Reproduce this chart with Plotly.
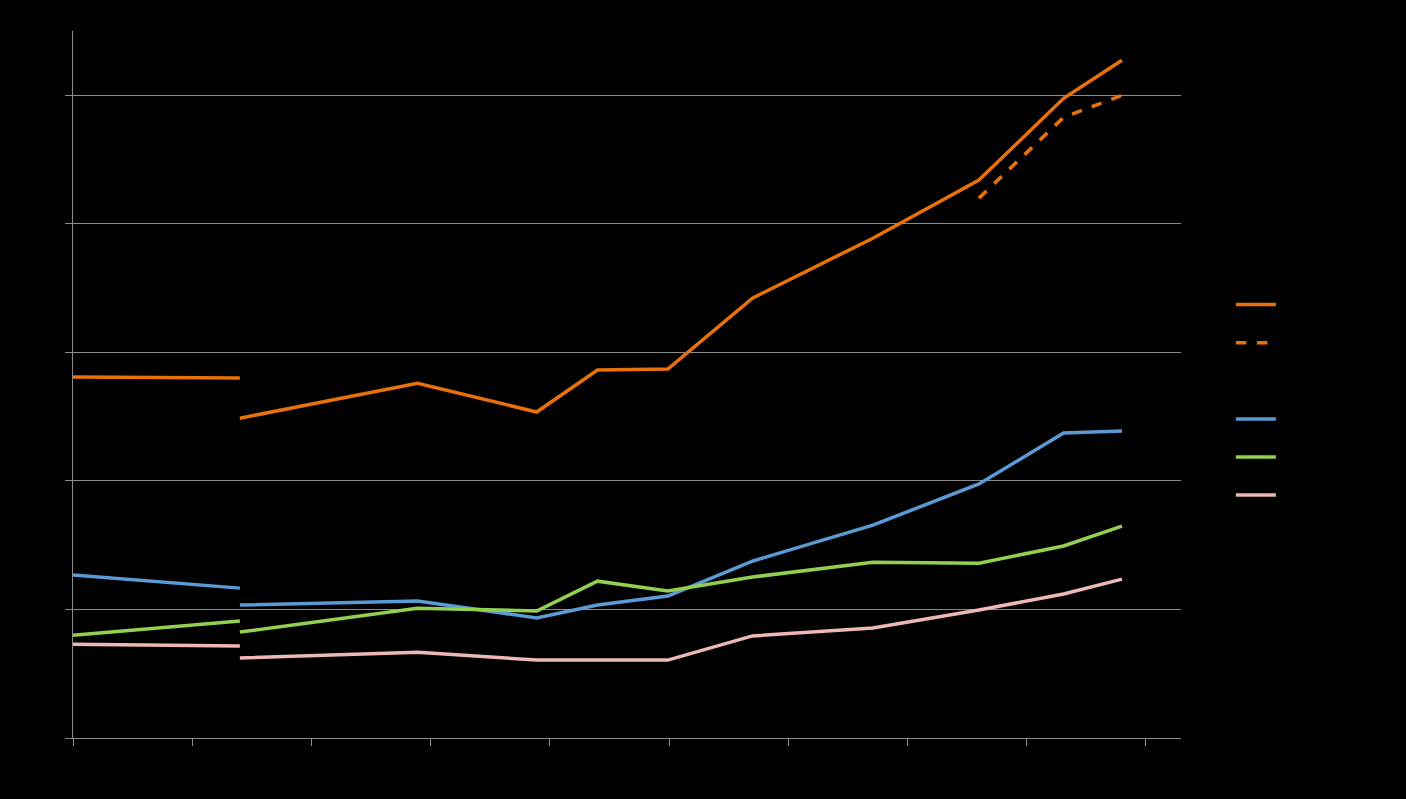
import plotly.graph_objects as go

# x positions expressed in years (tick every year)
x_first = [2010.0, 2011.40]
x_main = [2011.40, 2012.89, 2013.89, 2014.40, 2014.99, 2015.70, 2016.71, 2017.60, 2018.31, 2018.80]
x_proj = [2017.60, 2018.31, 2018.80]

orange_first = [140.4, 140.0]
orange_main = [124.4, 138.0, 126.8, 143.1, 143.5, 171.1, 194.4, 217.0, 248.8, 263.6]
orange_proj = [210.0, 241.4, 250.0]

blue_first = [63.4, 58.3]
blue_main = [51.7, 53.3, 46.7, 51.7, 55.2, 68.8, 82.8, 98.8, 118.6, 119.4]

green_first = [40.0, 45.5]
green_main = [41.2, 50.5, 49.4, 61.0, 57.2, 62.6, 68.4, 68.0, 74.7, 82.4]

pink_first = [36.5, 35.8]
pink_main = [31.1, 33.4, 30.3, 30.3, 30.3, 39.7, 42.8, 49.8, 56.0, 61.8]

y_ticks = [0, 50, 100, 150, 200, 250]
x_ticks = [2010, 2011, 2012, 2013, 2014, 2015, 2016, 2017, 2018, 2019]

ORANGE = "#E8710A"
BLUE = "#5B9BD5"
GREEN = "#92D050"
PINK = "#EDB8B6"
LW = 3.5


def joined(xa, ya, xb, yb):
    return list(xa) + [None] + list(xb), list(ya) + [None] + list(yb)


fig = go.Figure()

xo, yo = joined(x_first, orange_first, x_main, orange_main)
fig.add_trace(go.Scatter(x=xo, y=yo, mode="lines", name="A",
                         line=dict(color=ORANGE, width=LW), connectgaps=False))
fig.add_trace(go.Scatter(x=x_proj, y=orange_proj, mode="lines", name="A*",
                         line=dict(color=ORANGE, width=LW, dash="dash")))
fig.add_trace(go.Scatter(x=[None], y=[None], mode="lines", name=" ",
                         line=dict(color="#000000", width=3)))
xb, yb = joined(x_first, blue_first, x_main, blue_main)
fig.add_trace(go.Scatter(x=xb, y=yb, mode="lines", name="B",
                         line=dict(color=BLUE, width=LW), connectgaps=False))
xg, yg = joined(x_first, green_first, x_main, green_main)
fig.add_trace(go.Scatter(x=xg, y=yg, mode="lines", name="C",
                         line=dict(color=GREEN, width=LW), connectgaps=False))
xp, yp = joined(x_first, pink_first, x_main, pink_main)
fig.add_trace(go.Scatter(x=xp, y=yp, mode="lines", name="D",
                         line=dict(color=PINK, width=LW), connectgaps=False))

fig.update_layout(
    width=1406, height=799,
    paper_bgcolor="#000000", plot_bgcolor="#000000",
    margin=dict(l=73, r=225, t=31, b=61, autoexpand=False),
    font=dict(family="Liberation Sans, Arial", color="#000000", size=14),
    showlegend=True,
    legend=dict(x=1.045, y=0.647, xanchor="left", yanchor="top",
                bgcolor="rgba(0,0,0,0)", font=dict(size=27, color="#000000"),
                itemwidth=40, tracegroupgap=0),
)
fig.update_xaxes(range=[2010, 2019.295], tickvals=x_ticks, showgrid=False,
                 showline=True, linecolor="#8C8C8C", linewidth=1,
                 ticks="outside", ticklen=7, tickcolor="#8C8C8C",
                 tickfont=dict(color="#000000"), zeroline=False)
fig.update_yaxes(range=[0, 275], tickvals=y_ticks, showgrid=True,
                 gridcolor="#8C8C8C", gridwidth=1,
                 showline=True, linecolor="#8C8C8C", linewidth=1,
                 ticks="outside", ticklen=7, tickcolor="#8C8C8C",
                 tickfont=dict(color="#000000"), zeroline=False)

fig.write_html("out.html", config={"displayModeBar": False},
               post_script="document.body.style.margin='0';document.body.style.background='#000';")
